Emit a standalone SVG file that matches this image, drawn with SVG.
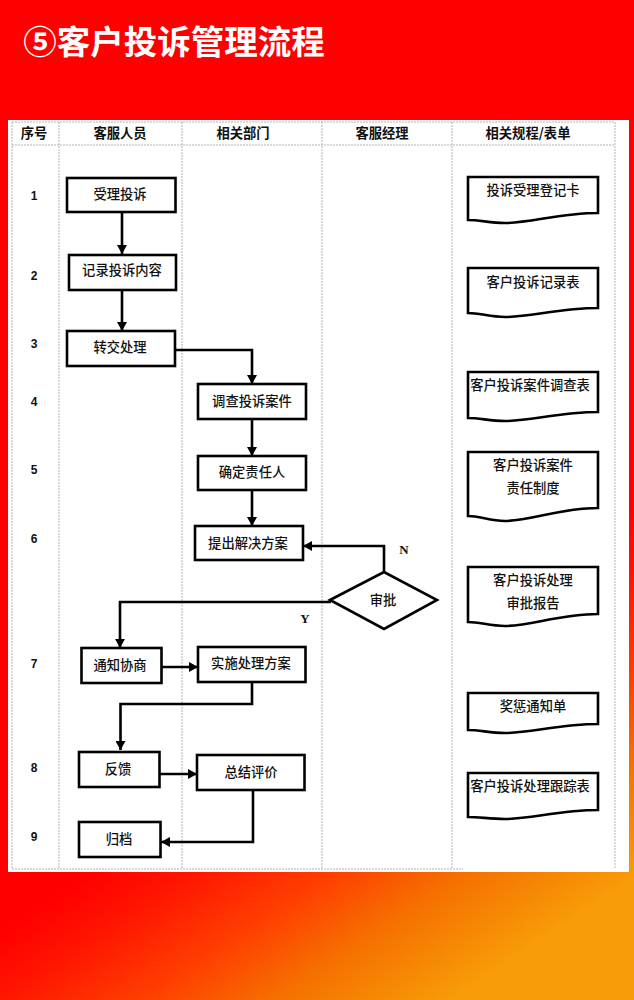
<svg xmlns="http://www.w3.org/2000/svg" width="634" height="1000" viewBox="0 0 634 1000">
<style>
text{font-family:"Noto Sans CJK SC","Liberation Sans",sans-serif;fill:#111;text-anchor:middle}
.t{font-size:13.300px;font-weight:500}
.h{font-size:13.300px;font-weight:700}
.n{font-family:"Liberation Sans",sans-serif;font-size:12px;font-weight:700}
.l{font-family:"Liberation Serif",serif;font-size:13px;font-weight:700}
.b{fill:#fff;stroke:#000;stroke-width:2.600}
.g{stroke:#b4b4b4;stroke-width:1;stroke-dasharray:2 1;fill:none}
.c{fill:none;stroke:#000;stroke-width:2.600}
</style>
<defs>
<linearGradient id="bg" gradientUnits="userSpaceOnUse" x1="431" y1="646" x2="600" y2="900">
<stop offset="0" stop-color="#ff0000"/><stop offset="0.18" stop-color="#ff1500"/><stop offset="0.45" stop-color="#ff4000"/><stop offset="0.68" stop-color="#f57000"/><stop offset="1" stop-color="#f89c08"/>
</linearGradient>
<marker id="a" markerUnits="userSpaceOnUse" markerWidth="10" markerHeight="10" refX="9" refY="5" orient="auto"><path d="M0 0L9 5L0 10Z" fill="#000"/></marker>
</defs>
<rect width="634" height="1000" fill="url(#bg)"/>
<text x="174" y="54" style="font-size:33.500px;font-weight:700;fill:#fff">⑤客户投诉管理流程</text>
<rect x="8" y="120" width="621" height="752" fill="#fff"/>
<g id="grid">
<path class="g" d="M12 122H615M12 145H615M12 869H463M12 122V869M59 122V869M182 122V869M322 122V869M452 122V869M615 122V869"/>
<text class="h" x="34" y="138">序号</text>
<text class="h" x="120" y="138">客服人员</text>
<text class="h" x="243" y="138">相关部门</text>
<text class="h" x="382" y="138">客服经理</text>
<text class="h" x="528" y="138">相关规程/表单</text>
<text class="n" x="34" y="200">1</text>
<text class="n" x="34" y="280">2</text>
<text class="n" x="34" y="348">3</text>
<text class="n" x="34" y="406">4</text>
<text class="n" x="34" y="474">5</text>
<text class="n" x="34" y="543">6</text>
<text class="n" x="34" y="668">7</text>
<text class="n" x="34" y="772">8</text>
<text class="n" x="34" y="841">9</text>
</g>
<g id="connectors">
<path class="c" marker-end="url(#a)" d="M122 212V254"/>
<path class="c" marker-end="url(#a)" d="M122 290V331"/>
<path class="c" marker-end="url(#a)" d="M175 350H252V384"/>
<path class="c" marker-end="url(#a)" d="M252 419V456"/>
<path class="c" marker-end="url(#a)" d="M252 490V526"/>
<path class="c" marker-end="url(#a)" d="M384 572V546H303"/>
<path class="c" marker-end="url(#a)" d="M331 602H120V648"/>
<path class="c" marker-end="url(#a)" d="M161 667H198"/>
<path class="c" marker-end="url(#a)" d="M252 682V704H120.500V750"/>
<path class="c" marker-end="url(#a)" d="M160 774H197"/>
<path class="c" marker-end="url(#a)" d="M253 790V842H161"/>
</g>
<g id="n1"><rect class="b" x="67" y="178" width="108.500" height="34"/><text class="t" x="120" y="199">受理投诉</text></g>
<g id="n2"><rect class="b" x="69" y="255" width="107" height="35"/><text class="t" x="122" y="275">记录投诉内容</text></g>
<g id="n3"><rect class="b" x="67" y="331" width="108" height="35"/><text class="t" x="120" y="352">转交处理</text></g>
<g id="n4"><rect class="b" x="198" y="384" width="108" height="35"/><text class="t" x="252" y="406">调查投诉案件</text></g>
<g id="n5"><rect class="b" x="198" y="456" width="108" height="34"/><text class="t" x="252" y="477">确定责任人</text></g>
<g id="n6"><rect class="b" x="195" y="526" width="108" height="34"/><text class="t" x="248" y="548">提出解决方案</text></g>
<g id="n7"><polygon class="b" points="330,600 384,572 437,600 384,629"/><text class="t" x="383" y="605">审批</text></g>
<g id="n8"><rect class="b" x="81.500" y="648" width="80" height="35"/><text class="t" x="120" y="670">通知协商</text></g>
<g id="n9"><rect class="b" x="198" y="647" width="107.500" height="35"/><text class="t" x="251" y="668">实施处理方案</text></g>
<g id="n10"><rect class="b" x="79" y="752" width="80.500" height="35"/><text class="t" x="118" y="774">反馈</text></g>
<g id="n11"><rect class="b" x="197" y="755" width="107.500" height="35"/><text class="t" x="251" y="777">总结评价</text></g>
<g id="n12"><rect class="b" x="79" y="822" width="81.500" height="35"/><text class="t" x="119" y="844">归档</text></g>
<g id="d1"><path class="b" d="M468 177H598V213C560 213 530 223 505 223C490 223 480 220 468 220Z"/><text class="t" x="533" y="195">投诉受理登记卡</text></g>
<g id="d2"><path class="b" d="M468 268H598V308C560 308 530 317 505 317C490 317 480 313 468 313Z"/><text class="t" x="533" y="287">客户投诉记录表</text></g>
<g id="d3"><path class="b" d="M468 372H598V412C560 412 530 421 505 421C490 421 480 418 468 418Z"/><text class="t" x="530" y="390">客户投诉案件调查表</text></g>
<g id="d4"><path class="b" d="M468 452H598V508C560 508 530 521 505 521C490 521 480 516 468 516Z"/><text class="t" x="533" y="470">客户投诉案件</text><text class="t" x="533" y="493">责任制度</text></g>
<g id="d5"><path class="b" d="M468 567H598V614C560 614 530 626 505 626C490 626 480 622 468 622Z"/><text class="t" x="533" y="585">客户投诉处理</text><text class="t" x="533" y="608">审批报告</text></g>
<g id="d6"><path class="b" d="M468 693H598V724C560 724 530 733 505 733C490 733 480 730 468 730Z"/><text class="t" x="533" y="711">奖惩通知单</text></g>
<g id="d7"><path class="b" d="M468 773H598V810C560 810 530 819 505 819C490 819 480 817 468 817Z"/><text class="t" x="530" y="791">客户投诉处理跟踪表</text></g>
<text class="l" x="404" y="554">N</text>
<text class="l" x="305" y="623">Y</text>
</svg>
